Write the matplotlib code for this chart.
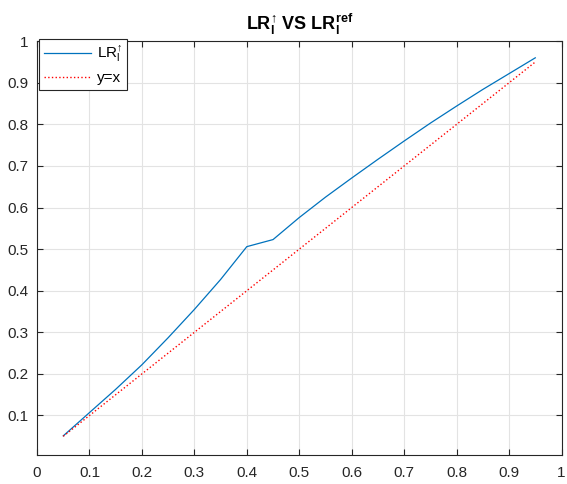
import numpy as np
import matplotlib
matplotlib.use('Agg')
import matplotlib.pyplot as plt

# data
x_vals = [0.05, 0.10, 0.15, 0.20, 0.25, 0.30, 0.35, 0.40, 0.45, 0.50,
          0.55, 0.60, 0.65, 0.70, 0.75, 0.80, 0.85, 0.90, 0.95]
lr_up = [0.051, 0.107, 0.163, 0.222, 0.287, 0.355, 0.427, 0.506, 0.523, 0.576,
         0.625, 0.671, 0.716, 0.760, 0.803, 0.844, 0.884, 0.922, 0.960]
x_ticks = [0, 0.1, 0.2, 0.3, 0.4, 0.5, 0.6, 0.7, 0.8, 0.9, 1]
x_ticklabels = ['0', '0.1', '0.2', '0.3', '0.4', '0.5', '0.6', '0.7', '0.8', '0.9', '1']
y_ticks = x_ticks[1:]
y_ticklabels = x_ticklabels[1:]

plt.rcParams['font.family'] = ['Liberation Sans', 'DejaVu Sans']
plt.rcParams['mathtext.fontset'] = 'custom'
plt.rcParams['mathtext.rm'] = 'Liberation Sans'
plt.rcParams['mathtext.it'] = 'Liberation Sans'
plt.rcParams['mathtext.bf'] = 'Liberation Sans:bold'

fig = plt.figure(figsize=(5.67, 4.84), dpi=100)
ax = fig.add_axes([0.0653, 0.0599, 0.925, 0.855])

ax.plot(x_vals, lr_up, color=(0, 0.447, 0.741), lw=0.9, label=r'LR$_\mathrm{l}^{\mathrm{↑}}$')
ax.plot(x_vals, x_vals, color='red', ls=':', lw=1.0, label='y=x')

ax.set_xlim(0, 1)
ax.set_ylim(0.005, 1.0)
ax.set_xticks(x_ticks)
ax.set_xticklabels(x_ticklabels)
ax.set_yticks(y_ticks)
ax.set_yticklabels(y_ticklabels)
ax.grid(True, color='#e3e3e3', lw=0.8)
ax.set_axisbelow(True)
ax.tick_params(direction='in', top=True, right=True, length=4, width=0.8,
               colors='#262626', labelsize=11, pad=8)
ax.tick_params(axis='y', pad=6)
for s in ax.spines.values():
    s.set_color('#262626')
    s.set_linewidth(0.8)

ax.set_title(r'$\mathbf{LR_l^{↑}}$ VS $\mathbf{LR_l^{ref}}$', fontsize=13,
             fontweight='bold', pad=8)

leg = ax.legend(loc='upper left', bbox_to_anchor=(0.0693, 0.919),
                bbox_transform=fig.transFigure, fancybox=False, framealpha=1,
                edgecolor='#262626', fontsize=11, borderaxespad=0,
                handlelength=3.1, handletextpad=0.4, labelspacing=0.45,
                borderpad=0.3)
leg.get_frame().set_linewidth(0.8)

fig.savefig('out.png', dpi=100)
